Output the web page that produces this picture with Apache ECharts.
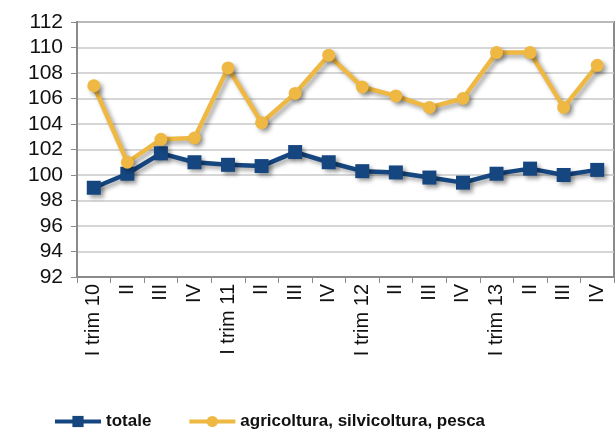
<!DOCTYPE html>
<html>
<head>
<meta charset="utf-8">
<script src="https://cdn.jsdelivr.net/npm/echarts@6/dist/echarts.min.js"></script>
<style>
  html, body { margin: 0; padding: 0; background: #fff; }
  #main { width: 616px; height: 437px; }
</style>
</head>
<body>
<div id="main"></div>
<script>
var categorie = ['I trim 10', 'II', 'III', 'IV', 'I trim 11', 'II', 'III', 'IV',
                 'I trim 12', 'II', 'III', 'IV', 'I trim 13', 'II', 'III', 'IV'];
var totale = [99.0, 100.1, 101.7, 101.0, 100.8, 100.7, 101.8, 101.0,
              100.3, 100.2, 99.8, 99.4, 100.1, 100.5, 100.0, 100.4];
var agricoltura = [107.0, 101.0, 102.8, 102.9, 108.4, 104.1, 106.4, 109.4,
                   106.9, 106.2, 105.3, 106.0, 109.6, 109.6, 105.3, 108.6];
var yTicks = { min: 92, max: 112, step: 2 };

var ombra = {
    shadowColor: 'rgba(0,0,0,0.35)',
    shadowBlur: 4,
    shadowOffsetX: 3,
    shadowOffsetY: 3
};

var option = {
    animation: false,
    textStyle: { fontFamily: 'Liberation Sans, Arial, sans-serif' },
    grid: {
        left: 77, right: 2, top: 22, bottom: 160,
        show: true, borderColor: '#8a8a8a', borderWidth: 2
    },
    legend: {
        left: 48, top: 408,
        itemWidth: 46, itemHeight: 14, itemGap: 36,
        lineStyle: { width: 4 },
        textStyle: { fontSize: 17, fontWeight: 'bold', color: '#111' },
        data: ['totale', 'agricoltura, silvicoltura, pesca']
    },
    xAxis: {
        type: 'category',
        data: categorie,
        boundaryGap: true,
        axisLine: { lineStyle: { color: '#8a8a8a', width: 2 } },
        axisTick: { show: true, length: 6, lineStyle: { color: '#8a8a8a' } },
        axisLabel: { rotate: 90, interval: 0, fontSize: 20, color: '#111', margin: 7 }
    },
    yAxis: {
        type: 'value',
        min: yTicks.min, max: yTicks.max, interval: yTicks.step,
        axisLine: { show: true, lineStyle: { color: '#8a8a8a', width: 2 } },
        axisTick: { show: true, length: 6, lineStyle: { color: '#8a8a8a' } },
        axisLabel: { fontSize: 21, color: '#111', margin: 14 },
        splitLine: { lineStyle: { color: '#c8c8c8', width: 1.5 } }
    },
    series: [
        {
            name: 'totale',
            type: 'line',
            data: totale,
            symbol: 'rect',
            symbolSize: 14,
            color: '#15467f',
            lineStyle: Object.assign({ width: 4.5, color: '#15467f' }, ombra),
            itemStyle: Object.assign({ color: '#15467f' }, ombra)
        },
        {
            name: 'agricoltura, silvicoltura, pesca',
            type: 'line',
            data: agricoltura,
            symbol: 'circle',
            symbolSize: 13,
            color: '#eeb843',
            lineStyle: Object.assign({ width: 4.5, color: '#eeb843' }, ombra),
            itemStyle: Object.assign({ color: '#eeb843' }, ombra)
        }
    ]
};

echarts.init(document.getElementById('main')).setOption(option);
</script>
</body>
</html>
